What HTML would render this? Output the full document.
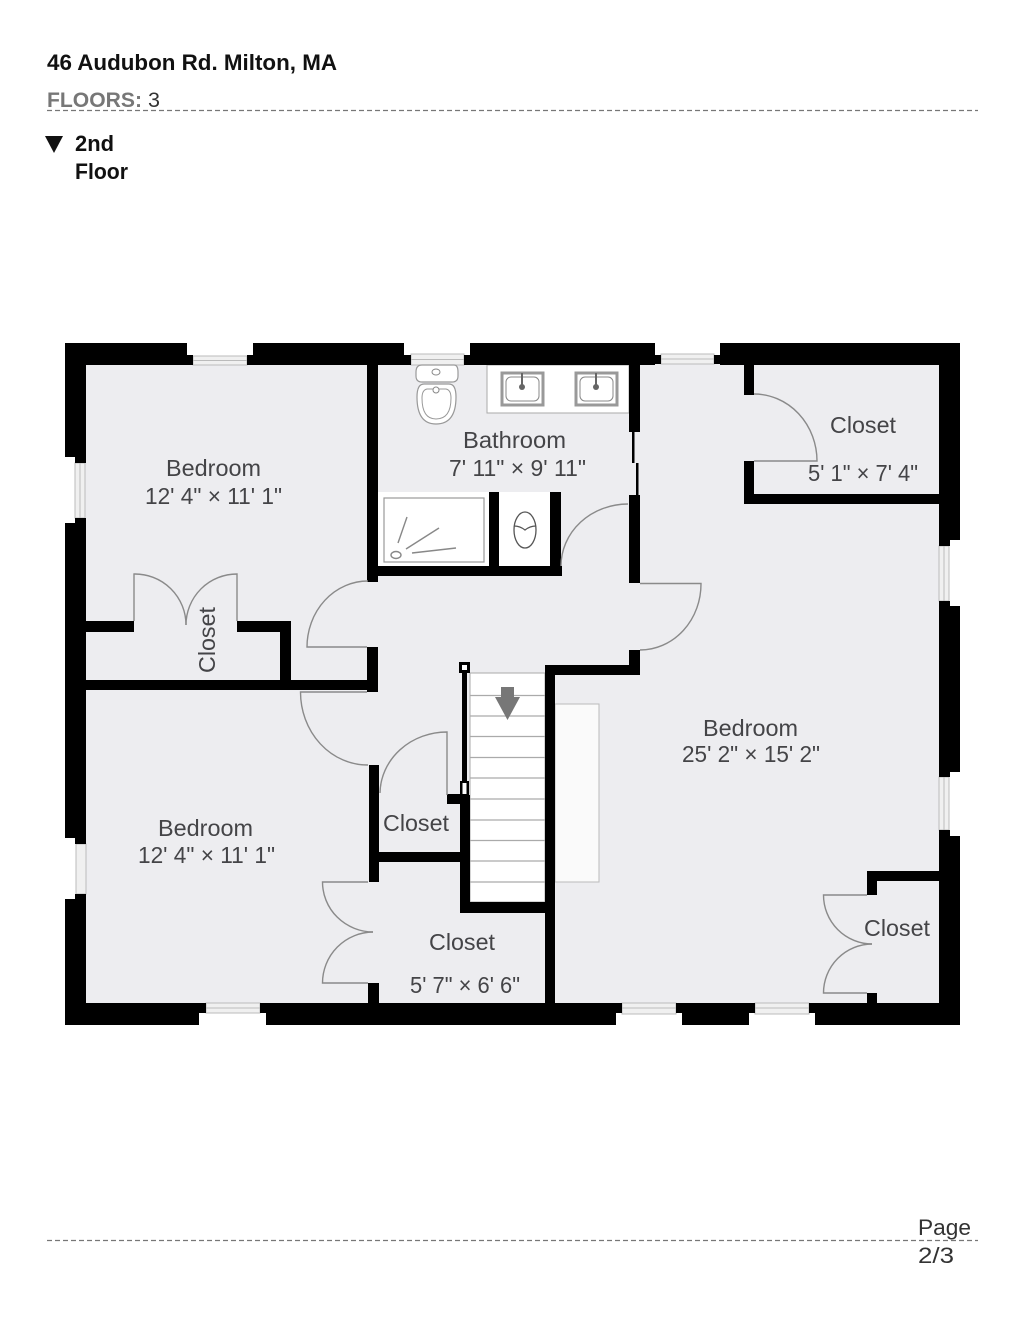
<!DOCTYPE html>
<html><head><meta charset="utf-8"><style>
html,body{margin:0;padding:0;background:#fff}
svg{display:block}
text{font-family:"Liberation Sans",sans-serif}
.r{font-size:23px;fill:#444447}
.h{font-weight:bold;fill:#111}
.d{fill:none;stroke:#8a8a8a;stroke-width:1.4}
.w{fill:#000}
.win{fill:#f0f0f0;stroke:#bbb;stroke-width:1}
</style></head><body>
<svg width="1024" height="1326" viewBox="0 0 1024 1326" xmlns="http://www.w3.org/2000/svg">
<rect width="1024" height="1326" fill="#fff"/>
<text class="h" x="47" y="70" font-size="22" textLength="290" lengthAdjust="spacingAndGlyphs">46 Audubon Rd. Milton, MA</text>
<text x="47" y="107" font-size="21" font-weight="bold" fill="#777" textLength="95" lengthAdjust="spacingAndGlyphs">FLOORS:</text>
<text x="148" y="107" font-size="21" fill="#333" textLength="12" lengthAdjust="spacingAndGlyphs">3</text>
<line x1="47" y1="110.500" x2="978" y2="110.500" stroke="#777" stroke-width="1.300" stroke-dasharray="5 3"/>
<polygon points="45,136 63,136 54,153" fill="#111"/>
<text class="h" x="75" y="151" font-size="22" textLength="39" lengthAdjust="spacingAndGlyphs">2nd</text>
<text class="h" x="75" y="179" font-size="22" textLength="53" lengthAdjust="spacingAndGlyphs">Floor</text>

<rect x="80" y="360" width="865" height="650" fill="#ededf0"/>
<rect x="487" y="365" width="142" height="48" fill="#fff" stroke="#aaa" stroke-width="1"/>
<rect x="378" y="492" width="111" height="74" fill="#fff"/>
<rect x="499" y="492" width="51" height="74" fill="#fff"/>
<rect x="555" y="704" width="44" height="178" fill="#fafafa" stroke="#bbb" stroke-width="1"/>
<rect x="470" y="673" width="75" height="229" fill="#fff" stroke="#aaa" stroke-width="1"/>
<g stroke="#aaa" stroke-width="1.200">
<line x1="470" y1="695.500" x2="545" y2="695.500"/><line x1="470" y1="716" x2="545" y2="716"/><line x1="470" y1="736.500" x2="545" y2="736.500"/><line x1="470" y1="757.500" x2="545" y2="757.500"/><line x1="470" y1="778" x2="545" y2="778"/><line x1="470" y1="799" x2="545" y2="799"/><line x1="470" y1="820" x2="545" y2="820"/><line x1="470" y1="840.500" x2="545" y2="840.500"/><line x1="470" y1="861" x2="545" y2="861"/><line x1="470" y1="882" x2="545" y2="882"/>
</g>
<polygon points="501,687 514,687 514,697 520,697 507.500,720 495,697 501,697" fill="#777"/>

<!-- window openings -->
<g class="win">
<rect x="193" y="356" width="54" height="9"/><rect x="411" y="354" width="53" height="11"/><rect x="661" y="354" width="53" height="10"/>
<rect x="75" y="463" width="10" height="55"/><rect x="76" y="844" width="10" height="50"/>
<rect x="939" y="546" width="10" height="55"/><rect x="939" y="777" width="10" height="53"/>
<rect x="206" y="1003" width="54" height="10"/><rect x="622" y="1003" width="54" height="11"/><rect x="755" y="1003" width="54" height="11"/>
</g>
<g stroke="#bbb" stroke-width="1">
<line x1="193" y1="360.500" x2="247" y2="360.500"/><line x1="411" y1="359.500" x2="464" y2="359.500"/><line x1="661" y1="359" x2="714" y2="359"/>
<line x1="80" y1="463" x2="80" y2="518"/><line x1="944" y1="546" x2="944" y2="601"/><line x1="944" y1="777" x2="944" y2="830"/>
<line x1="206" y1="1008" x2="260" y2="1008"/><line x1="622" y1="1008" x2="676" y2="1008"/><line x1="755" y1="1008" x2="809" y2="1008"/>
</g>

<!-- outer walls -->
<g class="w">
<rect x="65" y="343" width="122" height="22"/><rect x="187" y="355" width="6" height="10"/>
<rect x="253" y="343" width="151" height="22"/><rect x="247" y="355" width="6" height="10"/><rect x="404" y="355" width="7" height="10"/>
<rect x="470" y="343" width="185" height="22"/><rect x="464" y="355" width="6" height="10"/><rect x="655" y="355" width="6" height="9"/>
<rect x="720" y="343" width="240" height="22"/><rect x="714" y="355" width="6" height="9"/>
<rect x="65" y="343" width="21" height="114"/><rect x="75" y="457" width="11" height="6"/><rect x="75" y="518" width="11" height="6"/>
<rect x="65" y="523" width="21" height="315"/><rect x="75" y="838" width="11" height="6"/><rect x="75" y="894" width="11" height="6"/>
<rect x="65" y="899" width="21" height="126"/>
<rect x="939" y="343" width="21" height="197"/><rect x="939" y="540" width="11" height="6"/><rect x="939" y="601" width="11" height="6"/>
<rect x="939" y="606" width="21" height="166"/><rect x="939" y="772" width="11" height="5"/><rect x="939" y="830" width="11" height="6"/>
<rect x="939" y="836" width="21" height="189"/>
<rect x="65" y="1003" width="134" height="22"/><rect x="199" y="1003" width="7" height="10"/>
<rect x="266" y="1003" width="350" height="22"/><rect x="260" y="1003" width="6" height="10"/><rect x="616" y="1003" width="6" height="10"/>
<rect x="682" y="1003" width="67" height="22"/><rect x="676" y="1003" width="6" height="10"/><rect x="749" y="1003" width="6" height="10"/>
<rect x="815" y="1003" width="145" height="22"/><rect x="809" y="1003" width="6" height="10"/>

<!-- inner walls -->
<rect x="367" y="365" width="11" height="217"/>
<rect x="367" y="566" width="195" height="10"/>
<rect x="489" y="492" width="10" height="74"/>
<rect x="550" y="492" width="11" height="84"/>
<rect x="629" y="365" width="11" height="67"/>
<rect x="632" y="432" width="2.500" height="31"/>
<rect x="636" y="463" width="2.500" height="32"/>
<rect x="629" y="495" width="11" height="88"/>
<rect x="629" y="650" width="11" height="25"/>
<rect x="545" y="665" width="95" height="10"/>
<rect x="545" y="665" width="10" height="338"/>
<rect x="86" y="621" width="48" height="11"/>
<rect x="237" y="621" width="54" height="11"/>
<rect x="280" y="621" width="11" height="60"/>
<rect x="86" y="680" width="292" height="10"/>
<rect x="367" y="647" width="11" height="45"/>
<rect x="369" y="765" width="10" height="117"/>
<rect x="379" y="852" width="81" height="10"/>
<rect x="368" y="983" width="11" height="20"/>
<rect x="460" y="795" width="10" height="117"/>
<rect x="460" y="902" width="95" height="11"/>
<rect x="447" y="794" width="13" height="10"/>
<rect x="462" y="670" width="5" height="112"/>
<rect x="744" y="365" width="10" height="30"/>
<rect x="744" y="461" width="10" height="43"/>
<rect x="744" y="494" width="195" height="10"/>
<rect x="867" y="871" width="72" height="10"/>
<rect x="867" y="871" width="10" height="24"/>
<rect x="867" y="993" width="10" height="10"/>
<rect x="459" y="662" width="11" height="11"/>
<rect x="460" y="781" width="9" height="15"/>
</g>
<rect x="462" y="665" width="5" height="5" fill="#fff"/>
<rect x="462.500" y="783" width="4" height="11" fill="#fff"/>

<!-- doors -->
<g class="d">
<path d="M134 621V574A51 51 0 0 1 186 625"/>
<path d="M237 621V574A51 51 0 0 0 186 625"/>
<path d="M367 647H307A61 66 0 0 1 368 581"/>
<path d="M367 692H300.500A67 73 0 0 0 368 765"/>
<path d="M447 795V732A67 62 0 0 0 380 793"/>
<path d="M628 504A67 62 0 0 0 561 566"/>
<path d="M640 583.500H701A61 66 0 0 1 640 650"/>
<path d="M754 394A63 67 0 0 1 817 461H754"/>
<path d="M368 882H322.500A51 50 0 0 0 373 932"/>
<path d="M368 983H322.500A51 51 0 0 1 373 932"/>
<path d="M867 895H823.500A49 49 0 0 0 872 944"/>
<path d="M867 993H823.500A49 49 0 0 1 872 944"/>
</g>

<!-- bath fixtures -->
<rect x="384" y="498" width="100" height="64" fill="#fff" stroke="#999" stroke-width="1.200"/>
<g stroke="#888" stroke-width="1.400" fill="none">
<line x1="398" y1="543" x2="407" y2="517"/>
<line x1="406" y1="549" x2="439" y2="528"/>
<line x1="412" y1="553" x2="456" y2="548"/>
<ellipse cx="396" cy="555" rx="5" ry="3.500"/>
</g>
<g fill="none" stroke="#555" stroke-width="1.300">
<ellipse cx="525" cy="530" rx="11" ry="18"/>
<path d="M514 526Q520 526 525 530Q530 526 536 526"/>
</g>
<g>
<path d="M422 365H454Q458 365 458 372V376Q458 382 452 382H422Q416 382 416 376V372Q416 365 422 365Z" fill="#fff" stroke="#999" stroke-width="1.200"/>
<path d="M424 384H449Q456 384 456 397Q456 424 436 424Q417 424 417 397Q417 384 424 384Z" fill="#fff" stroke="#999" stroke-width="1.200"/>
<path d="M427 389H446Q451 390 451 398Q451 419 436 419Q422 419 422 398Q422 390 427 389Z" fill="#fff" stroke="#999" stroke-width="1"/>
<ellipse cx="436" cy="372" rx="4" ry="3" fill="#fff" stroke="#888"/>
<ellipse cx="436" cy="390" rx="3" ry="3" fill="#fff" stroke="#888"/>
</g>
<g fill="#fff" stroke="#999" stroke-width="3">
<rect x="502" y="373" width="41" height="32"/>
<rect x="576" y="373" width="41" height="32"/>
</g>
<g fill="none" stroke="#888" stroke-width="1">
<rect x="506" y="377" width="33" height="24" rx="5"/>
<rect x="580" y="377" width="33" height="24" rx="5"/>
</g>
<g fill="#666">
<circle cx="522" cy="387" r="3"/><circle cx="596" cy="387" r="3"/>
<rect x="521" y="373" width="2" height="13"/><rect x="595" y="373" width="2" height="13"/>
</g>

<!-- labels -->
<text class="r" x="166" y="476" textLength="95" lengthAdjust="spacingAndGlyphs">Bedroom</text>
<text class="r" x="145" y="504" textLength="137" lengthAdjust="spacingAndGlyphs">12' 4" × 11' 1"</text>
<text class="r" x="463" y="448" textLength="103" lengthAdjust="spacingAndGlyphs">Bathroom</text>
<text class="r" x="449" y="476" textLength="137" lengthAdjust="spacingAndGlyphs">7' 11" × 9' 11"</text>
<text class="r" x="830" y="433" textLength="66" lengthAdjust="spacingAndGlyphs">Closet</text>
<text class="r" x="808" y="481" textLength="110" lengthAdjust="spacingAndGlyphs">5' 1" × 7' 4"</text>
<text class="r" x="703" y="736" textLength="95" lengthAdjust="spacingAndGlyphs">Bedroom</text>
<text class="r" x="682" y="762" textLength="138" lengthAdjust="spacingAndGlyphs">25' 2" × 15' 2"</text>
<text class="r" x="158" y="836" textLength="95" lengthAdjust="spacingAndGlyphs">Bedroom</text>
<text class="r" x="138" y="863" textLength="137" lengthAdjust="spacingAndGlyphs">12' 4" × 11' 1"</text>
<text class="r" x="383" y="831" textLength="66" lengthAdjust="spacingAndGlyphs">Closet</text>
<text class="r" x="429" y="950" textLength="66" lengthAdjust="spacingAndGlyphs">Closet</text>
<text class="r" x="410" y="993" textLength="110" lengthAdjust="spacingAndGlyphs">5' 7" × 6' 6"</text>
<text class="r" x="864" y="936" textLength="66" lengthAdjust="spacingAndGlyphs">Closet</text>
<text class="r" transform="translate(215 673) rotate(-90)" x="0" y="0" textLength="66" lengthAdjust="spacingAndGlyphs">Closet</text>

<line x1="47" y1="1240.500" x2="978" y2="1240.500" stroke="#777" stroke-width="1.300" stroke-dasharray="5 3"/>
<text x="918" y="1235" font-size="22" fill="#333" textLength="53" lengthAdjust="spacingAndGlyphs">Page</text>
<text x="918" y="1263" font-size="22" fill="#333" textLength="36" lengthAdjust="spacingAndGlyphs">2/3</text>
</svg>
</body></html>
